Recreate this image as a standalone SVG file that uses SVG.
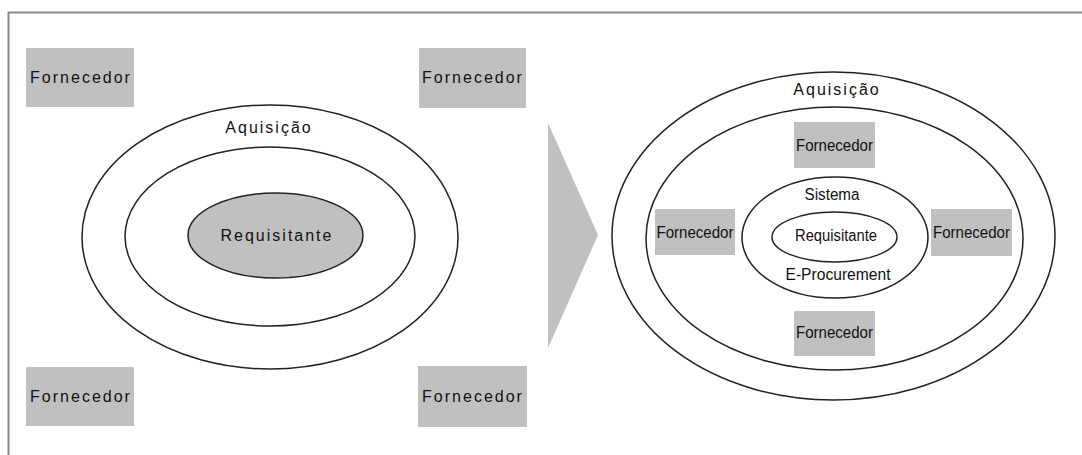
<svg xmlns="http://www.w3.org/2000/svg" width="1082" height="455" viewBox="0 0 1082 455">
  <style>
    .box { fill: #c0c0c0; }
    .ring { fill: none; stroke: #222; stroke-width: 1.5; }
    .lbl { font-family: "Liberation Sans", Arial, sans-serif; fill: #111; text-anchor: middle; }
    .big { font-size: 16px; letter-spacing: 2px; }
    .sm { font-size: 16px; }
  </style>
  <rect width="1082" height="455" fill="#ffffff"/>

  <!-- frame: top and left edges -->
  <path d="M8.5,455 V12.5 H1082" fill="none" stroke="#8a8a8a" stroke-width="2"/>

  <!-- left: traditional procurement -->
  <g id="aquisicao-left">
    <ellipse class="ring" cx="270" cy="237" rx="188" ry="132"/>
    <text class="lbl big" x="269" y="133">Aquisição</text>
  </g>
  <g id="inner-left">
    <ellipse class="ring" cx="270" cy="236.5" rx="145" ry="89.5"/>
  </g>
  <g id="requisitante-left">
    <ellipse cx="275.5" cy="235.5" rx="87.5" ry="42.5" fill="#c0c0c0" stroke="#222" stroke-width="1.5"/>
    <text class="lbl big" x="277" y="241">Requisitante</text>
  </g>
  <g id="fornecedor-tl">
    <rect class="box" x="26" y="48" width="108" height="59"/>
    <text class="lbl big" x="81" y="83">Fornecedor</text>
  </g>
  <g id="fornecedor-tr">
    <rect class="box" x="419" y="48" width="107" height="60"/>
    <text class="lbl big" x="473" y="83">Fornecedor</text>
  </g>
  <g id="fornecedor-bl">
    <rect class="box" x="26" y="367" width="108" height="59"/>
    <text class="lbl big" x="81" y="402">Fornecedor</text>
  </g>
  <g id="fornecedor-br">
    <rect class="box" x="418" y="366" width="109" height="61"/>
    <text class="lbl big" x="473" y="402">Fornecedor</text>
  </g>

  <!-- transition arrow -->
  <g id="arrow">
    <polygon points="548,123 598,235 548,348" fill="#c0c0c0"/>
  </g>

  <!-- right: e-procurement -->
  <g id="aquisicao-right">
    <ellipse class="ring" cx="833.5" cy="236" rx="221.5" ry="164"/>
    <text class="lbl big" x="837" y="95">Aquisição</text>
  </g>
  <g id="inner-right">
    <ellipse class="ring" cx="834.5" cy="238.5" rx="188.5" ry="131.5"/>
  </g>
  <g id="sistema">
    <ellipse class="ring" cx="835" cy="237.5" rx="93" ry="60.5"/>
    <text class="lbl sm" x="832" y="200" textLength="55" lengthAdjust="spacingAndGlyphs">Sistema</text>
    <text class="lbl sm" x="838" y="280" textLength="105" lengthAdjust="spacingAndGlyphs">E-Procurement</text>
  </g>
  <g id="requisitante-right">
    <ellipse cx="834.5" cy="237" rx="62.5" ry="25" fill="#ffffff" stroke="#222" stroke-width="1.5"/>
    <text class="lbl sm" x="836" y="241" textLength="82" lengthAdjust="spacingAndGlyphs">Requisitante</text>
  </g>
  <g id="fornecedor-top">
    <rect class="box" x="794" y="122" width="81" height="46"/>
    <text class="lbl sm" x="834.5" y="151" textLength="77" lengthAdjust="spacingAndGlyphs">Fornecedor</text>
  </g>
  <g id="fornecedor-left">
    <rect class="box" x="655" y="209" width="80" height="46"/>
    <text class="lbl sm" x="695" y="238" textLength="77" lengthAdjust="spacingAndGlyphs">Fornecedor</text>
  </g>
  <g id="fornecedor-right">
    <rect class="box" x="931" y="209" width="81" height="47"/>
    <text class="lbl sm" x="971.5" y="238" textLength="77" lengthAdjust="spacingAndGlyphs">Fornecedor</text>
  </g>
  <g id="fornecedor-bottom">
    <rect class="box" x="794" y="311" width="81" height="45"/>
    <text class="lbl sm" x="834.5" y="338" textLength="77" lengthAdjust="spacingAndGlyphs">Fornecedor</text>
  </g>
</svg>
